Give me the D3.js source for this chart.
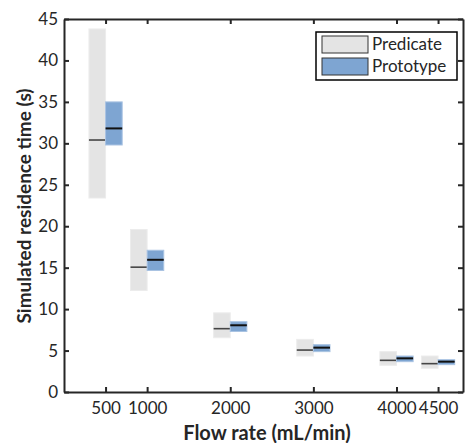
<!DOCTYPE html>
<html>
<head>
<meta charset="utf-8">
<script src="https://cdn.jsdelivr.net/npm/d3@7"></script>
<style>
  body { margin: 0; background: #fff; }
  svg text { font-family: Lato, "Open Sans", sans-serif; fill: #262626; }
</style>
</head>
<body>
<div id="chart"></div>
<script>
const flowRates = [500, 1000, 2000, 3000, 4000, 4500];
const predicateLow = [23.4, 12.25, 6.55, 4.34, 3.22, 2.86];
const predicateHigh = [43.8, 19.6, 9.55, 6.35, 4.87, 4.34];
const predicateMed = [30.4, 15.06, 7.64, 5.06, 3.82, 3.42];
const prototypeLow = [29.8, 14.66, 7.3, 4.87, 3.66, 3.3];
const prototypeHigh = [35.0, 17.1, 8.48, 5.71, 4.34, 3.9];
const prototypeMed = [31.8, 15.95, 8.05, 5.35, 4.06, 3.66];
const yTicks = [0, 5, 10, 15, 20, 25, 30, 35, 40, 45];
const halfWidth = 200;

const W = 465, H = 443;
const margin = { top: 19, right: 2, bottom: 51, left: 64 };
const width = W - margin.left - margin.right;
const height = H - margin.top - margin.bottom;

const svg = d3.select('#chart').append('svg').attr('width', W).attr('height', H);
const g = svg.append('g').attr('transform', `translate(${margin.left},${margin.top})`);

const x = d3.scaleLinear().domain([0, 4800]).range([0, width]);
const y = d3.scaleLinear().domain([0, 45]).range([height, 0]);

// boxes
const series = [
  { lo: predicateLow, hi: predicateHigh, med: predicateMed, off: -halfWidth, fill: '#e4e4e4', stroke: '#ececec', medColor: '#454545', medW: 1.6 },
  { lo: prototypeLow, hi: prototypeHigh, med: prototypeMed, off: 0, fill: '#7ea5d2', stroke: '#a9c3e2', medColor: '#111', medW: 2 }
];
series.forEach(s => {
  flowRates.forEach((f, i) => {
    const x0 = x(f + s.off), x1 = x(f + s.off + halfWidth);
    g.append('rect').attr('x', x0).attr('width', x1 - x0)
      .attr('y', y(s.hi[i])).attr('height', y(s.lo[i]) - y(s.hi[i]))
      .attr('fill', s.fill).attr('stroke', s.stroke).attr('stroke-width', 1);
    g.append('line').attr('x1', x0).attr('x2', x1)
      .attr('y1', y(s.med[i])).attr('y2', y(s.med[i]))
      .attr('stroke', s.medColor).attr('stroke-width', s.medW);
  });
});

// axes, inward ticks like matlab
const axisStyle = sel => {
  sel.selectAll('path').attr('stroke', '#262626').attr('stroke-width', 2);
  sel.selectAll('line').attr('stroke', '#262626').attr('stroke-width', 2);
  sel.selectAll('text').style('font-size', '17px').attr('fill', '#262626');
};
g.append('g').attr('transform', `translate(0,${height})`)
  .call(d3.axisBottom(x).tickValues(flowRates).tickFormat(d3.format('d')).tickSize(-5).tickSizeOuter(0).tickPadding(10))
  .call(axisStyle);
g.append('g')
  .call(d3.axisTop(x).tickValues(flowRates).tickSize(-5).tickSizeOuter(0).tickFormat(''))
  .call(axisStyle);
g.append('g')
  .call(d3.axisLeft(y).tickValues(yTicks).tickSize(-5).tickSizeOuter(0).tickPadding(6))
  .call(axisStyle);
g.append('g').attr('transform', `translate(${width},0)`)
  .call(d3.axisRight(y).tickValues(yTicks).tickSize(-5).tickSizeOuter(0).tickFormat(''))
  .call(axisStyle);

// titles
svg.append('text').attr('x', 267).attr('y', 440)
  .attr('text-anchor', 'middle').style('font-size', '20px').style('font-weight', 'bold')
  .text('Flow rate (mL/min)');
svg.append('text').attr('transform', `translate(31,206) rotate(-90)`)
  .attr('text-anchor', 'middle').style('font-size', '19px').style('font-weight', 'bold')
  .text('Simulated residence time (s)');

// legend
const leg = svg.append('g').attr('transform', 'translate(316,32)');
leg.append('rect').attr('width', 141).attr('height', 48)
  .attr('fill', '#fff').attr('stroke', '#000').attr('stroke-width', 1.5);
[['Predicate', '#e4e4e4'], ['Prototype', '#7ea5d2']].forEach(([name, col], i) => {
  leg.append('rect').attr('x', 6).attr('y', 4 + i * 22).attr('width', 46).attr('height', 17)
    .attr('fill', col).attr('stroke', '#333').attr('stroke-width', 1);
  leg.append('text').attr('x', 56).attr('y', 18 + i * 22).style('font-size', '17px').text(name);
});
</script>
</body>
</html>
